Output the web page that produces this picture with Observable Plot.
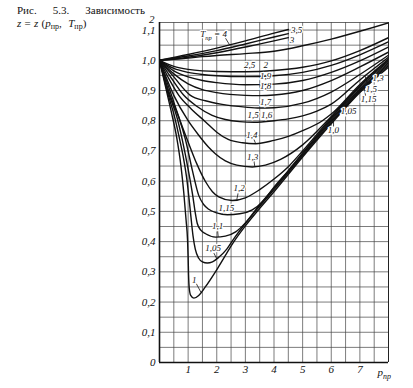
<!DOCTYPE html>
<html><head><meta charset="utf-8">
<script src="https://cdn.jsdelivr.net/npm/d3@7"></script>
<script src="https://cdn.jsdelivr.net/npm/@observablehq/plot@0.6"></script>
<style>
body{margin:0;background:#fff;}
#wrap{position:relative;width:413px;height:388px;overflow:hidden;background:#fff;}
#cap{position:absolute;left:17px;top:4px;font-family:"Liberation Serif","DejaVu Serif",serif;font-size:11px;line-height:12.5px;color:#111;white-space:nowrap;word-spacing:2.6px;}
#cap .l2{word-spacing:0.5px;}
#cap i{font-style:italic;}
#cap sub{font-size:8px;vertical-align:-2px;line-height:0;word-spacing:0;}
</style></head><body>
<div id="wrap"><div id="chart"></div>
<div id="cap">Рис.&nbsp;&nbsp; 5.3.&nbsp;&nbsp; Зависимость<br><span class="l2"><i>z</i> = <i>z</i> (<i>p</i><sub>пр</sub>,&nbsp; <i>T</i><sub>пр</sub>)</span></div>
</div>
<script>
// ---- curves z(p) for each reduced temperature T (p = reduced pressure) ----
const t100 = [[0,1],[0.28,0.884],[0.44,0.818],[0.6,0.745],[0.75,0.65],[0.85,0.56],[0.93,0.47],[0.98,0.405],[1.0,0.35],[1.015,0.29],[1.04,0.245],[1.09,0.222],[1.2,0.213],[1.37,0.222],[1.6,0.25],[2.02,0.31],[2.6,0.4],[3,0.452],[3.5,0.51],[4,0.565],[5,0.68],[6,0.79],[7,0.893],[8,0.977]];
const t105 = [[0,1],[0.31,0.884],[0.52,0.815],[0.7,0.74],[0.85,0.67],[0.95,0.61],[1.02,0.553],[1.1,0.48],[1.17,0.42],[1.25,0.375],[1.37,0.345],[1.5,0.333],[1.67,0.329],[1.85,0.333],[2.07,0.348],[2.35,0.375],[2.6,0.41],[3,0.46],[3.5,0.517],[4,0.572],[5,0.685],[6,0.795],[7,0.897],[8,0.982]];
const t110 = [[0,1],[0.34,0.884],[0.6,0.815],[0.8,0.735],[1.0,0.64],[1.16,0.553],[1.25,0.495],[1.32,0.46],[1.45,0.437],[1.61,0.426],[1.96,0.415],[2.3,0.418],[2.66,0.432],[3,0.462],[3.5,0.522],[4,0.577],[5,0.69],[6,0.8],[7,0.9],[8,0.987]];
const t115 = [[0,1],[0.37,0.884],[0.67,0.812],[0.9,0.74],[1.15,0.635],[1.37,0.553],[1.55,0.522],[1.72,0.507],[2.0,0.495],[2.37,0.489],[2.8,0.492],[3.24,0.505],[3.6,0.532],[4,0.58],[4.5,0.635],[5,0.693],[6,0.805],[7,0.904],[8,0.992]];
const t120 = [[0,1],[0.42,0.884],[0.72,0.8],[1.02,0.725],[1.3,0.658],[1.61,0.598],[1.85,0.565],[2.07,0.548],[2.54,0.536],[3,0.545],[3.5,0.572],[4,0.607],[4.5,0.648],[5,0.7],[6,0.81],[7,0.91],[8,0.997]];
const t130 = [[0,1],[0.5,0.884],[1.0,0.8],[1.37,0.752],[1.7,0.714],[1.96,0.69],[2.3,0.667],[2.7,0.653],[3.24,0.647],[3.7,0.653],[4.23,0.672],[5,0.72],[5.86,0.8],[6.5,0.865],[7,0.915],[8,1.0]];
const t140 = [[0,1],[0.35,0.935],[0.675,0.884],[1.1,0.84],[1.61,0.796],[2.0,0.762],[2.4,0.738],[2.9,0.727],[3.36,0.724],[4,0.735],[4.5,0.748],[5,0.767],[5.69,0.8],[6,0.822],[7,0.92],[8,1.004]];
const t150 = [[0,1],[0.4,0.943],[0.85,0.884],[1.3,0.848],[1.84,0.818],[2.3,0.804],[2.8,0.797],[3.3,0.795],[4,0.8],[4.5,0.806],[5,0.816],[5.5,0.832],[6,0.855],[7,0.935],[8,1.01]];
const t160 = [[0,1],[0.5,0.945],[1.08,0.884],[1.6,0.866],[2.19,0.854],[3,0.845],[3.5,0.842],[4,0.843],[5,0.858],[6,0.895],[7,0.953],[8,1.017]];
const t170 = [[0,1],[0.5,0.955],[1,0.922],[1.5,0.903],[2,0.893],[3,0.884],[3.5,0.883],[4,0.885],[5,0.9],[6,0.933],[7,0.978],[8,1.027]];
const t180 = [[0,1],[0.5,0.965],[1,0.945],[1.5,0.933],[2,0.926],[3,0.919],[4,0.921],[5,0.933],[6,0.96],[7,0.998],[8,1.044]];
const t190 = [[0,1],[0.5,0.973],[1,0.96],[1.5,0.953],[2,0.949],[3,0.946],[4,0.949],[5,0.96],[6,0.983],[7,1.018],[8,1.061]];
const t200 = [[0,1],[0.5,0.98],[1,0.97],[1.5,0.965],[2,0.963],[3,0.962],[4,0.966],[5,0.977],[6,0.998],[7,1.032],[8,1.075]];
const t250 = [[0,1],[0.5,1.003],[1,1.007],[1.5,1.012],[2,1.016],[3,1.022],[4,1.03],[5,1.048],[6,1.07],[7,1.096],[8,1.124]];
const t300 = [[0,1],[1,1.01],[2,1.025],[3,1.044],[4,1.064],[4.5,1.075]];
const t350 = [[0,1],[1,1.014],[2,1.032],[3,1.054],[4,1.077],[4.5,1.088]];
const t400 = [[0,1],[1,1.019],[2,1.04],[3,1.064],[4,1.09],[4.5,1.102]];

const curveTemps = [1, 1.05, 1.1, 1.15, 1.2, 1.3, 1.4, 1.5, 1.6, 1.7, 1.8, 1.9, 2, 2.5, 3, 3.5, 4];
const curvePoints = [t100, t105, t110, t115, t120, t130, t140, t150, t160, t170, t180, t190, t200, t250, t300, t350, t400];

// ---- curve labels ----
const labelText = ["T|пр| = 4","3,5","3","2,5","2","1,9","1,8","1,7","1,6","1,5","1,4","1,3","1,2","1,15","1,1","1,05","1","1,3","1,5","1,15","1,05","1,0"];
const labelP = [1.89,4.79,4.63,3.15,3.71,3.71,3.71,3.71,3.74,3.27,3.23,3.25,2.78,2.34,2.03,1.87,1.21,7.64,7.4,7.31,6.61,6.07];
const labelZ = [1.086,1.099,1.066,0.983,0.983,0.947,0.913,0.863,0.82,0.82,0.752,0.68,0.576,0.51,0.45,0.377,0.273,0.94,0.906,0.873,0.831,0.768];

// ---- leader ticks: start point near a label, end on curve T at p ----
const leaderFromP = [2.3, 3.3, 3.3, 2.75, 2.25, 2.03, 1.9, 1.28, 7.56, 7.3, 7.2, 6.6, 6.08];
const leaderFromZ = [1.074, 0.738, 0.667, 0.562, 0.497, 0.436, 0.362, 0.262, 0.946, 0.913, 0.882, 0.845, 0.781];
const leaderToP   = [2.45, 3.36, 3.33, 2.7, 2.2, 2.05, 2.0, 1.45, 7.48, 7.18, 7.14, 6.55, 6.08];
const leaderToT   = [4, 1.4, 1.3, 1.2, 1.15, 1.1, 1.05, 1, 1.3, 1.5, 1.15, 1.05, 1];

// ---- axes ----
const xTickValues = [1, 2, 3, 4, 5, 6, 7];
const yTickValues = [0, 0.1, 0.2, 0.3, 0.4, 0.5, 0.6, 0.7, 0.8, 0.9, 1.0, 1.1];
const yTickLabels = ["0","0,1","0,2","0,3","0,4","0,5","0,6","0,7","0,8","0,9","1,0","1,1"];
const yTopLabel = "2";
const gridP = d3.range(0, 17).map(i => i * 0.5);
const gridZ = d3.range(0, 23).map(i => +(i * 0.05).toFixed(2));

const rows = curveTemps.flatMap((T, i) => curvePoints[i].map(([p, z]) => ({T, p, z})));
function curveAt(T, p) {
  const pts = curvePoints[curveTemps.indexOf(T)];
  for (let i = 1; i < pts.length; i++) {
    if (p <= pts[i][0]) {
      const [p0, z0] = pts[i-1], [p1, z1] = pts[i];
      return z0 + (z1 - z0) * (p - p0) / (p1 - p0);
    }
  }
  return pts[pts.length-1][1];
}
const labels = labelText.map((t, i) => ({t, p: labelP[i], z: labelZ[i]}));
const leaders = leaderFromP.map((p, i) => ({x1: p, y1: leaderFromZ[i], x2: leaderToP[i], y2: curveAt(leaderToT[i], leaderToP[i])}));
const yMap = new Map(yTickValues.map((v, i) => [v, yTickLabels[i]]));

const chart = Plot.plot({
  width: 413, height: 388,
  marginLeft: 159, marginRight: 25, marginTop: 22, marginBottom: 26,
  style: {fontFamily: "'Liberation Serif', 'DejaVu Serif', serif", fontStyle: "italic", fontSize: "11px", background: "transparent", color: "#111"},
  x: {domain: [0, 8], ticks: xTickValues, tickFormat: d => String(d), tickSize: 0, tickPadding: 3, label: null},
  y: {domain: [0, 1.125], ticks: yTickValues, tickFormat: d => yMap.get(d), tickSize: 0, tickPadding: 4, label: null},
  marks: [
    Plot.ruleX(gridP, {stroke: "#444", strokeWidth: 0.7}),
    Plot.ruleY(gridZ, {stroke: "#444", strokeWidth: 0.7}),
    Plot.ruleY([1.125], {stroke: "#444", strokeWidth: 0.8}),
    Plot.ruleX([8], {stroke: "#222", strokeWidth: 1}),
    Plot.ruleX([0], {stroke: "#111", strokeWidth: 1.6}),
    Plot.ruleY([0], {stroke: "#111", strokeWidth: 1.6}),
    Plot.line(rows, {x: "p", y: "z", z: "T", curve: "monotone-x", stroke: "#111", strokeWidth: 1.4, clip: true}),
    Plot.link(leaders, {x1: "x1", y1: "y1", x2: "x2", y2: "y2", stroke: "#111", strokeWidth: 0.8}),
    Plot.text(labels, {x: "p", y: "z", text: "t", fontSize: 9, fontStyle: "italic", fill: "#111", stroke: "white", strokeWidth: 2.5}),
    Plot.text([yTopLabel], {x: 0, y: 1.125, dx: -5, dy: -3, text: d => d, textAnchor: "end", fontSize: 11, fontStyle: "italic", fill: "#111"}),
    Plot.text(["p|пр|"], {x: 7.62, y: 0, dy: 10, text: d => d, textAnchor: "start", fontSize: 11, fontStyle: "italic", fill: "#111"})
  ]
});

// subscripts: "a|sub|b"
const ns = "http://www.w3.org/2000/svg";
chart.querySelectorAll("text").forEach(t => {
  const s = t.textContent;
  if (!s.includes("|")) return;
  const [a, sub, b] = s.split("|");
  t.textContent = "";
  const t1 = document.createElementNS(ns, "tspan"); t1.textContent = a; t.appendChild(t1);
  const t2 = document.createElementNS(ns, "tspan"); t2.textContent = sub; t2.setAttribute("dy", "2.5"); t2.setAttribute("font-size", "0.72em"); t.appendChild(t2);
  if (b) { const t3 = document.createElementNS(ns, "tspan"); t3.textContent = b; t3.setAttribute("dy", "-2.5"); t.appendChild(t3); }
});
document.getElementById("chart").appendChild(chart);
</script>
</body></html>
